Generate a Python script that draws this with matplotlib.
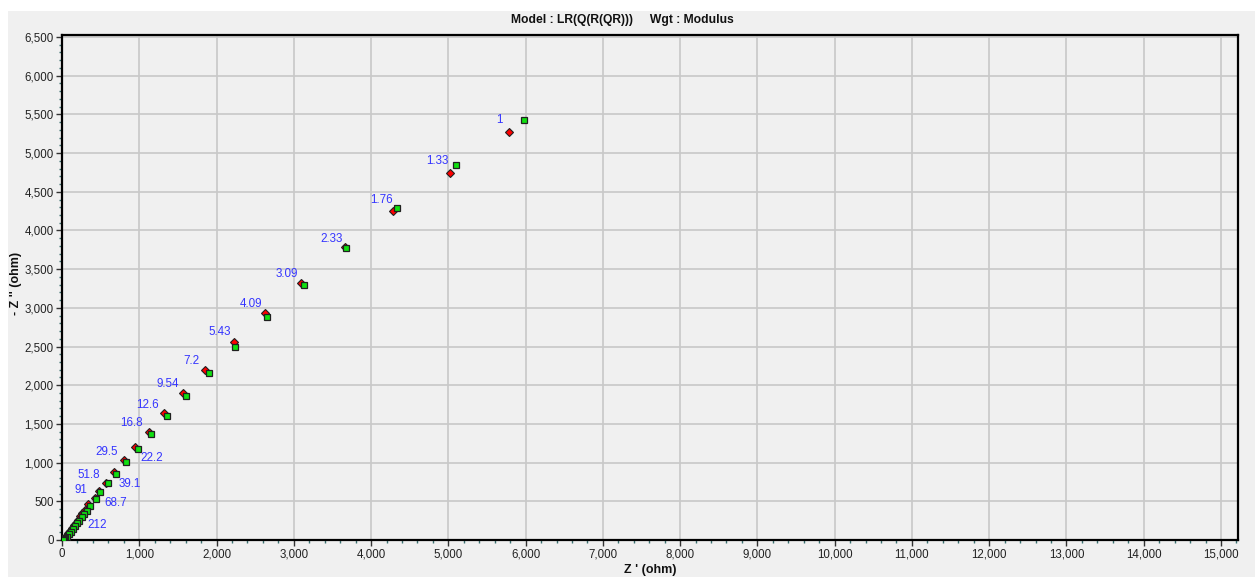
import matplotlib
matplotlib.use("Agg")
import matplotlib.pyplot as plt
from matplotlib.ticker import MultipleLocator, FuncFormatter
from matplotlib.patches import Rectangle

plt.rcParams['font.family'] = ['Liberation Sans', 'DejaVu Sans']

# Measured data (green squares)
z_re = [5979, 5095, 4335, 3679, 3128, 2653, 2239, 1906, 1601, 1359, 1156, 980, 828,
        703, 598, 498, 434, 358, 320, 289, 255, 220, 194, 168, 138, 113, 91, 65, 43,
        30, 22, 16]
z_im = [5430, 4849, 4293, 3773, 3299, 2881, 2498, 2158, 1860, 1598, 1370, 1176, 1004,
        853, 733, 618, 530, 443, 379, 336, 293, 249, 216, 181, 142, 107, 78, 43, 22,
        12, 6, 2]

# Fitted model (red diamonds)
fit_re = [5785, 5017, 4284, 3666, 3097, 2627, 2230, 1851, 1566, 1324, 1122, 945, 798,
          669, 569, 479, 421, 336, 298, 265, 233, 203, 177, 151, 126, 100, 78, 56, 35,
          24, 17, 12]
fit_im = [5271, 4745, 4247, 3786, 3324, 2929, 2562, 2192, 1899, 1645, 1395, 1205, 1034,
          875, 740, 629, 549, 465, 394, 349, 304, 262, 226, 190, 151, 116, 84, 52, 26,
          14, 7, 3]

# Frequency labels (index into fit points, text)
label_idx = [0, 1, 2, 3, 4, 5, 6, 7, 8, 9, 10, 11, 12, 13, 14, 15, 16, 19]
label_txt = ["1", "1.33", "1.76", "2.33", "3.09", "4.09", "5.43", "7.2", "9.54", "12.6",
             "16.8", "22.2", "29.5", "39.1", "51.8", "68.7", "91", "212"]
# label offsets in pixels (dx, dy) and alignment
label_off = [(-6, 12), (-1, 12), (0, 11), (-3, 8), (-3, 9), (-3, 9), (-3, 10), (-6, 9),
             (-4, 9), (-6, 8), (-6, 9), (5, -11), (-6, 8), (5, -12), (-6, 8), (5, -12),
             (-7, 8), (5, -12)]
label_ha = ["right"] * 11 + ["left", "right", "left", "right", "left", "right", "left"]

title = "Model : LR(Q(R(QR)))     Wgt : Modulus"

W, H = 1255, 577
fig = plt.figure(figsize=(W / 100, H / 100), dpi=100, facecolor="white")
fig.patches.append(Rectangle((8 / W, 0), 1 - 8 / W, (H - 11) / H, transform=fig.transFigure,
                             facecolor="#f0f0f0", edgecolor="none", zorder=-10))

L, R, T, B = 62, 1238, 35, 540
ax = fig.add_axes([L / W, (H - B) / H, (R - L) / W, (B - T) / H])
ax.set_facecolor("#f0f0f0")

ax.set_xlim(0, 15220)
ax.set_ylim(0, 6526)

ax.xaxis.set_major_locator(MultipleLocator(1000))
ax.xaxis.set_minor_locator(MultipleLocator(200))
ax.yaxis.set_major_locator(MultipleLocator(500))
ax.yaxis.set_minor_locator(MultipleLocator(100))
fmt = FuncFormatter(lambda v, p: f"{int(round(v)):,}")
ax.xaxis.set_major_formatter(fmt)
ax.yaxis.set_major_formatter(fmt)

ax.grid(True, which="major", color="#c8c8c8", linewidth=1.2)
ax.set_axisbelow(True)

for s in ax.spines.values():
    s.set_linewidth(1.6)
    s.set_color("black")

ax.tick_params(which="major", direction="out", length=4, width=1, color="#333333",
               labelsize=8.3, labelcolor="#222222", pad=2)
ax.tick_params(which="minor", direction="out", length=2, width=1, color="#3a7070")

ax.plot(fit_re, fit_im, linestyle="none", marker="D", markersize=4.4,
        markerfacecolor="#ff0000", markeredgecolor="#202020", markeredgewidth=0.8, zorder=3)
ax.plot(z_re, z_im, linestyle="none", marker="s", markersize=4.5,
        markerfacecolor="#10e010", markeredgecolor="#202020", markeredgewidth=0.9, zorder=4)

for i, t, (dx, dy), ha in zip(label_idx, label_txt, label_off, label_ha):
    ax.annotate(t, (fit_re[i], fit_im[i]), xytext=(dx, dy), textcoords="offset pixels",
                ha=ha, va="center", fontsize=8.4, color="#3535ff", zorder=5)

fig.text(622 / W, 1 - 20 / H, title, ha="center", va="center", fontsize=8.7,
         fontweight="bold", color="#111111")
fig.text(650 / W, 1 - 570 / H, "Z ' (ohm)", ha="center", va="center", fontsize=9,
         fontweight="bold", color="#111111")
fig.text(16 / W, 1 - 283 / H, "- Z '' (ohm)", ha="center", va="center", fontsize=9,
         fontweight="bold", color="#111111", rotation=90)

fig.savefig("out.png", dpi=100, facecolor=fig.get_facecolor())
